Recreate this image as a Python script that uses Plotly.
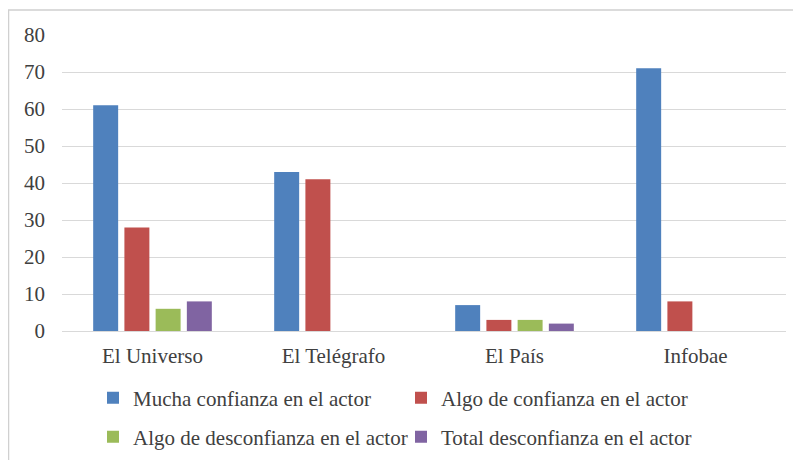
import plotly.graph_objects as go

medios = ['El Universo', 'El Telégrafo', 'El País', 'Infobae']
mucha_confianza = [61, 43, 7, 71]
algo_confianza = [28, 41, 3, 8]
algo_desconfianza = [6, 0, 3, 0]
total_desconfianza = [8, 0, 2, 0]

series = [
    ('Mucha confianza en el actor', mucha_confianza, '#4F81BD', 'legend'),
    ('Algo de confianza en el actor', algo_confianza, '#C0504D', 'legend'),
    ('Algo de desconfianza en el actor', algo_desconfianza, '#9BBB59', 'legend2'),
    ('Total desconfianza en el actor', total_desconfianza, '#8064A2', 'legend2'),
]

fig = go.Figure()
for name, vals, color, leg in series:
    fig.add_trace(go.Bar(name=name, x=medios, y=vals, legend=leg,
                         marker=dict(color=color, line=dict(width=0))))

# the page body adds an 8px offset, so the figure is drawn 8px smaller
W, H = 793, 452
L, R, T, B = 54, 15, 27, 129
pw, ph = W - L - R, H - T - B
y0 = T + ph  # zero line in figure px

leg_common = dict(orientation='h', xanchor='left', yanchor='middle', x=(85 - L) / pw,
                  entrywidth=263, font=dict(size=21), itemwidth=30,
                  bgcolor='rgba(0,0,0,0)')

fig.update_layout(
    width=W, height=H,
    barmode='group', bargap=0.31, bargroupgap=0.2,
    margin=dict(l=L, r=R, t=T, b=B, autoexpand=False),
    plot_bgcolor='white', paper_bgcolor='white',
    font=dict(family='Liberation Serif, DejaVu Serif, serif', size=21, color='#404040'),
    xaxis=dict(showgrid=False, showline=True, linecolor='#d9d9d9', ticks='',
               tickfont=dict(size=21), ticklabelstandoff=6),
    yaxis=dict(range=[0, 80], dtick=10, gridcolor='#d9d9d9', zeroline=False, ticks='',
               tickfont=dict(size=21), ticklabelstandoff=16),
    legend=dict(leg_common, y=(y0 - 390) / ph),
    legend2=dict(leg_common, y=(y0 - 429) / ph),
    shapes=[dict(type='rect', xref='paper', yref='paper',
                 x0=(0.5 - L) / pw, x1=(810 - L) / pw,
                 y0=(y0 - 470) / ph, y1=(y0 - 2) / ph,
                 line=dict(color='#d0d0d0', width=1.5))],
)

fig.write_html("out.html")
